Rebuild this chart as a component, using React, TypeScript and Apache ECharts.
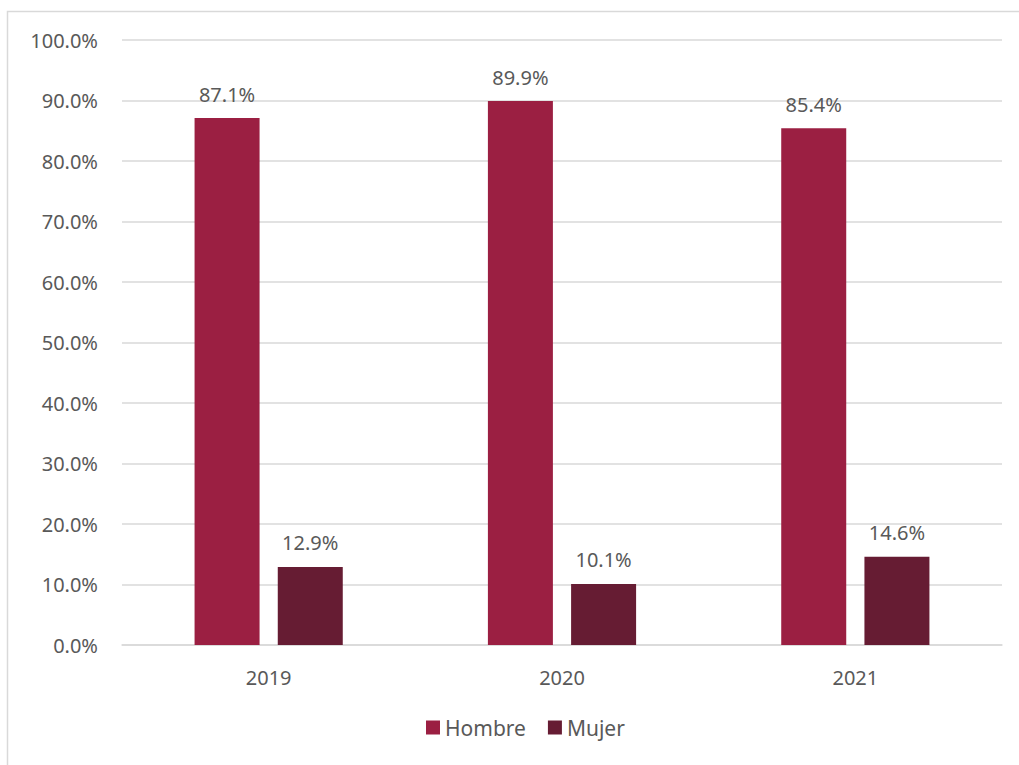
import React, { useEffect, useRef } from "react";
import * as echarts from "echarts";

const categories = ["2019", "2020", "2021"];
const hombre = [87.1, 89.9, 85.4];
const mujer = [12.9, 10.1, 14.6];
const seriesNames = ["Hombre", "Mujer"];

const FONT = "'Noto Sans', 'Open Sans', sans-serif";
const TXT = "#595959";

export default function App() {
  const ref = useRef<HTMLDivElement>(null);
  useEffect(() => {
    const chart = echarts.init(ref.current!, null, { renderer: "svg" });
    const label = {
      show: true,
      position: "top" as const,
      distance: 14,
      color: TXT,
      fontSize: 20,
      fontFamily: FONT,
      formatter: (p: any) => p.value.toFixed(1) + "%",
    };
    chart.setOption({
      animation: false,
      textStyle: { fontFamily: FONT },
      graphic: [
        {
          type: "rect",
          shape: { x: 7.5, y: 11.5, width: 1100, height: 900 },
          style: { fill: "none", stroke: "#d9d9d9", lineWidth: 1.5 },
          silent: true,
        },
      ],
      grid: { left: 122, right: 17, top: 40, bottom: 120, containLabel: false },
      legend: {
        data: seriesNames,
        bottom: 22,
        left: 421,
        itemWidth: 14,
        itemHeight: 14,
        itemGap: 22,
        icon: "rect",
        textStyle: { color: TXT, fontSize: 21, fontFamily: FONT },
      },
      xAxis: {
        type: "category",
        data: categories,
        axisTick: { show: false },
        axisLine: { lineStyle: { color: "#d9d9d9", width: 1.5 } },
        axisLabel: { color: TXT, fontSize: 20, fontFamily: FONT, margin: 22 },
      },
      yAxis: {
        type: "value",
        min: 0,
        max: 100,
        interval: 10,
        axisLine: { show: false },
        axisTick: { show: false },
        splitLine: { lineStyle: { color: "#d9d9d9", width: 1.5 } },
        axisLabel: {
          color: TXT,
          fontSize: 20,
          fontFamily: FONT,
          margin: 24,
          formatter: (v: number) => v.toFixed(1) + "%",
        },
      },
      series: [
        {
          name: seriesNames[0],
          type: "bar",
          data: hombre,
          barWidth: 65,
          barGap: "28%",
          itemStyle: { color: "#9b1f42" },
          label,
        },
        {
          name: seriesNames[1],
          type: "bar",
          data: mujer,
          barWidth: 65,
          itemStyle: { color: "#661c33" },
          label,
        },
      ],
    });
    return () => chart.dispose();
  }, []);
  return (
    <div
      ref={ref}
      style={{ position: "absolute", left: 0, top: 0, width: 1019, height: 765, background: "#fff" }}
    />
  );
}
